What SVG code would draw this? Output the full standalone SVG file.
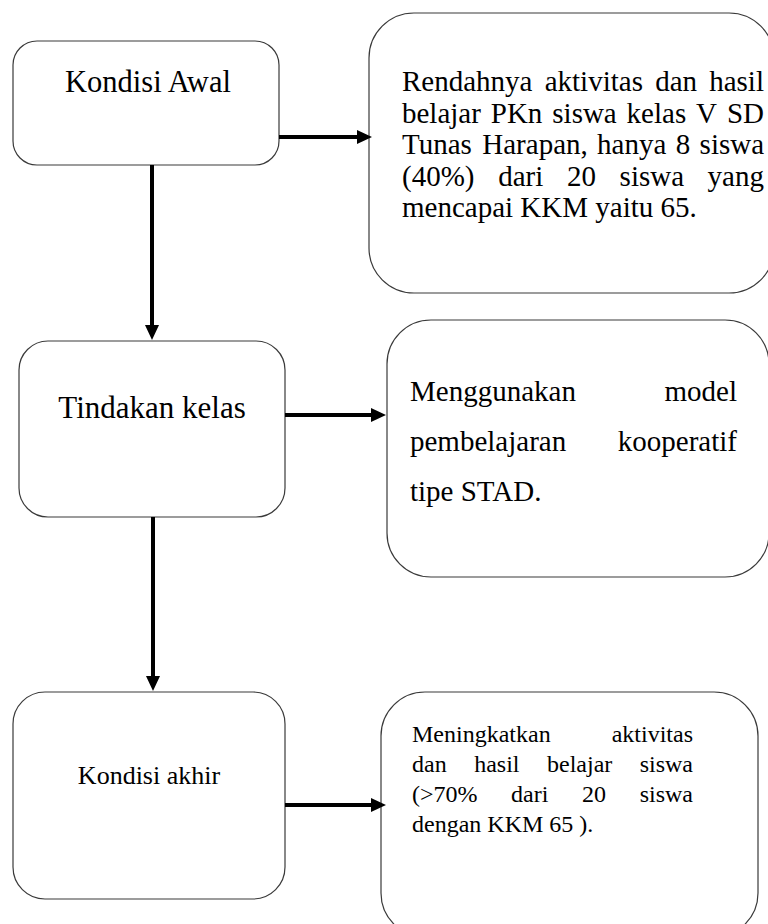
<svg xmlns="http://www.w3.org/2000/svg" width="768" height="924" viewBox="0 0 768 924">
<style>
.box{fill:#fff;stroke:#3a3a3a;stroke-width:1.2}
.c{stroke:#000;stroke-width:4;fill:none}
</style>
<defs>
<marker id="ah" markerUnits="userSpaceOnUse" markerWidth="16" markerHeight="15" refX="0" refY="7" orient="auto">
<path d="M0,0 L15,7 L0,14 z" fill="#000"/>
</marker>
</defs>
<rect width="768" height="924" fill="#fff"/>
<g font-family="'Liberation Serif', Tinos, 'Times New Roman', 'DejaVu Serif', serif" fill="#000">
<g id="kondisi-awal">
<rect class="box" x="13" y="41" width="266" height="124" rx="24"/>
<text x="148" y="92" font-size="30.5" text-anchor="middle">Kondisi Awal</text>
</g>
<g id="rendahnya">
<rect class="box" x="369" y="13" width="405" height="280" rx="45"/>
<text font-size="29"><tspan x="402" y="91">Rendahnya</tspan><tspan x="544.7" y="91">aktivitas</tspan><tspan x="655.2" y="91">dan</tspan><tspan x="709.2" y="91">hasil</tspan><tspan x="402" y="122.5">belajar</tspan><tspan x="490.8" y="122.5">PKn</tspan><tspan x="552.3" y="122.5">siswa</tspan><tspan x="626.6" y="122.5">kelas</tspan><tspan x="696.1" y="122.5">V</tspan><tspan x="726.9" y="122.5">SD</tspan><tspan x="402" y="154">Tunas</tspan><tspan x="482.3" y="154">Harapan,</tspan><tspan x="597.1" y="154">hanya</tspan><tspan x="675.8" y="154">8</tspan><tspan x="699.6" y="154">siswa</tspan><tspan x="402" y="185.5">(40%)</tspan><tspan x="498.2" y="185.5">dari</tspan><tspan x="566.9" y="185.5">20</tspan><tspan x="619.6" y="185.5">siswa</tspan><tspan x="707.6" y="185.5">yang</tspan><tspan x="402" y="217">mencapai KKM yaitu 65.</tspan></text>
</g>
<g id="tindakan-kelas">
<rect class="box" x="19" y="341" width="266" height="176" rx="29"/>
<text x="152" y="418" font-size="31" text-anchor="middle">Tindakan kelas</text>
</g>
<g id="menggunakan">
<rect class="box" x="387" y="320" width="382" height="257" rx="44"/>
<text font-size="29"><tspan x="410" y="401">Menggunakan</tspan><tspan x="664.5" y="401">model</tspan><tspan x="410" y="451">pembelajaran</tspan><tspan x="617.8" y="451">kooperatif</tspan><tspan x="410" y="501">tipe STAD.</tspan></text>
</g>
<g id="kondisi-akhir">
<rect class="box" x="13" y="692" width="272" height="207" rx="32"/>
<text x="149" y="784" font-size="26" text-anchor="middle">Kondisi akhir</text>
</g>
<g id="meningkatkan">
<rect class="box" x="381" y="692" width="377" height="245" rx="44"/>
<text font-size="24"><tspan x="412" y="742">Meningkatkan</tspan><tspan x="611.7" y="742">aktivitas</tspan><tspan x="412" y="772">dan</tspan><tspan x="474.2" y="772">hasil</tspan><tspan x="547" y="772">belajar</tspan><tspan x="639.7" y="772">siswa</tspan><tspan x="412" y="802">(&gt;70%</tspan><tspan x="511.1" y="802">dari</tspan><tspan x="582" y="802">20</tspan><tspan x="639.7" y="802">siswa</tspan><tspan x="412" y="832">dengan KKM 65 ).</tspan></text>
</g>
</g>
<g id="connectors">
<line class="c" x1="279" y1="137" x2="357" y2="137" marker-end="url(#ah)"/>
<line class="c" x1="152" y1="165" x2="152" y2="325" marker-end="url(#ah)"/>
<line class="c" x1="285" y1="415" x2="371" y2="415" marker-end="url(#ah)"/>
<line class="c" x1="153" y1="517" x2="153" y2="676" marker-end="url(#ah)"/>
<line class="c" x1="285" y1="805" x2="371" y2="805" marker-end="url(#ah)"/>
</g>
</svg>
